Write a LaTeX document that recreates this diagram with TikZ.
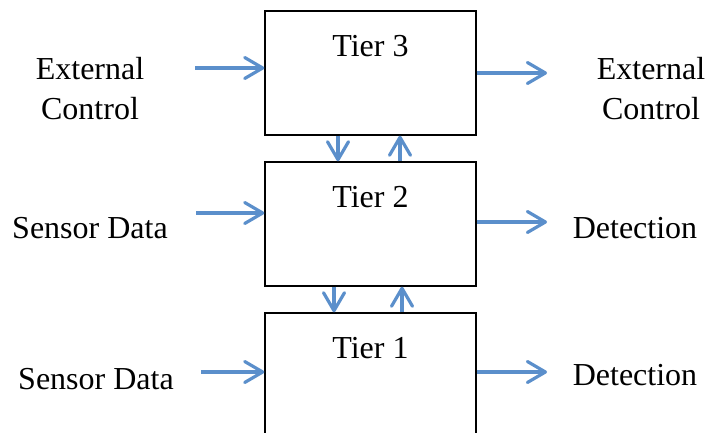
\documentclass[tikz,border=0pt]{standalone}
\usepackage{fontspec}
\setmainfont{Liberation Serif}
\usetikzlibrary{arrows.meta, positioning}
\definecolor{FlowBlue}{HTML}{5B8FCB}

\begin{document}
\begin{tikzpicture}[x=0.5pt, y=-0.5pt,
    tierbox/.style={draw, line width=0.7pt, minimum width=105.5pt, minimum height=62pt, inner sep=0pt},
    flow/.style={FlowBlue, line width=1.6pt, -{Straight Barb[length=9pt, width=10.5pt, line cap=round, line join=round]}},
    lbl/.style={font=\fontsize{16}{20}\selectfont, align=center}]
    \useasboundingbox (0,0) rectangle (707,433);
    % the three tiers
    \node[tierbox] (tier3) at (370.5,73) {};
    \node[tierbox] (tier2) at (370.5,224) {};
    \node[tierbox] (tier1) at (370.5,375) {};
    \node[lbl, below=9pt of tier3.north] (t3name) {Tier 3};
    \node[lbl, below=9pt of tier2.north] (t2name) {Tier 2};
    \node[lbl, below=9pt of tier1.north] (t1name) {Tier 1};
    % outside labels
    \node[lbl] (ctrlin) at (90,89) {External\\Control};
    \node[lbl] (ctrlout) at (651,89) {External\\Control};
    \node[lbl] (sensin2) at (90,228) {Sensor Data};
    \node[lbl] (sensin1) at (96,379) {Sensor Data};
    \node[lbl] (detect2) at (635,228) {Detection};
    \node[lbl] (detect1) at (635,375) {Detection};
    % free ends of the side arrows
    \coordinate (in3) at (195,68);
    \coordinate (in2) at (196,213);
    \coordinate (in1) at (201,372);
    \coordinate (out3) at (547,73);
    \coordinate (out2) at (547,222);
    \coordinate (out1) at (547,372);
    \draw[flow] (in3) -- (tier3.west |- in3);
    \draw[flow] (in2) -- (tier2.west |- in2);
    \draw[flow] (in1) -- (tier1.west |- in1);
    \draw[flow] (tier3.east |- out3) -- (out3);
    \draw[flow] (tier2.east |- out2) -- (out2);
    \draw[flow] (tier1.east |- out1) -- (out1);
    % between tiers
    \draw[flow] ([xshift=-16.25pt]tier3.south) -- ([xshift=-16.25pt]tier2.north);
    \draw[flow] ([xshift=14.75pt]tier2.north) -- ([xshift=14.75pt]tier3.south);
    \draw[flow] ([xshift=-18.25pt]tier2.south) -- ([xshift=-18.25pt]tier1.north);
    \draw[flow] ([xshift=15.75pt]tier1.north) -- ([xshift=15.75pt]tier2.south);
\end{tikzpicture}
\end{document}
